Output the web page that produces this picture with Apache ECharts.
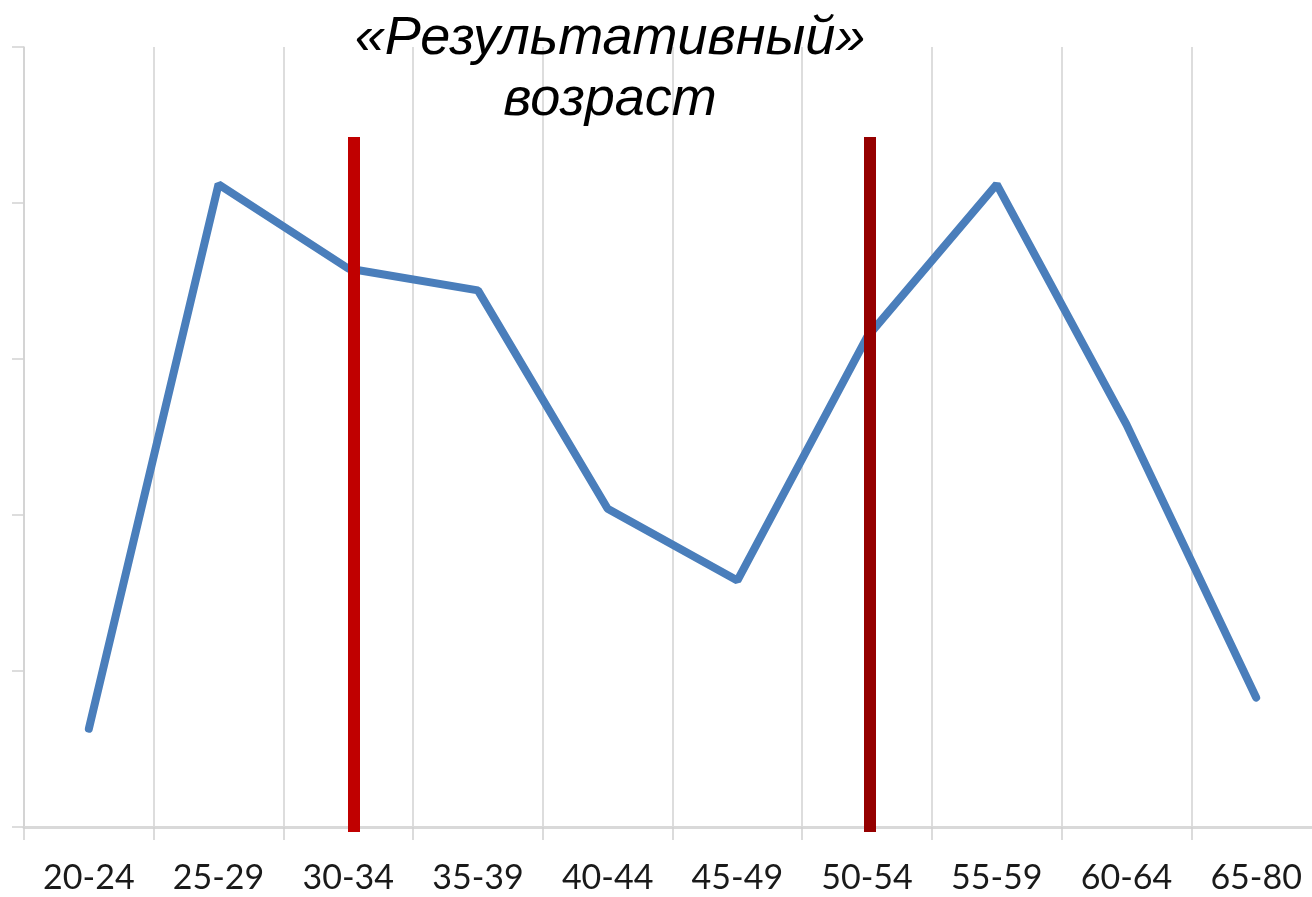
<!DOCTYPE html>
<html>
<head>
<meta charset="utf-8">
<script src="https://cdn.jsdelivr.net/npm/echarts@6/dist/echarts.min.js"></script>
<style>
  html, body { margin: 0; padding: 0; background: #fff; }
  #chart { width: 1312px; height: 897px; }
</style>
</head>
<body>
<div id="chart"></div>
<script>
// age groups and relative values
var ageGroups = ['20-24', '25-29', '30-34', '35-39', '40-44', '45-49', '50-54', '55-59', '60-64', '65-80']
var values = [0.63, 4.12, 3.58, 3.44, 2.04, 1.58, 3.14, 4.12, 2.58, 0.83]
// positions of the two red bounds on a 0..10 scale across the category axis
var bounds = [2.54, 6.52]
var boundColors = ['#c00000', '#950000']

var chart = echarts.init(document.getElementById('chart'))

var boundLines = bounds.map(function (b, i) {
  return { xAxis: b, lineStyle: { color: boundColors[i], width: 12, type: 'solid' } }
})

chart.setOption({
  animation: false,
  title: {
    text: '«Результативный»\nвозраст',
    left: 610,
    top: 8,
    padding: 0,
    textAlign: 'center',
    textStyle: {
      fontFamily: 'Liberation Sans',
      fontStyle: 'italic',
      fontWeight: 'normal',
      fontSize: 54,
      lineHeight: 61,
      color: '#000'
    }
  },
  grid: [
    { left: 24, top: 47, width: 1297, height: 780, outerBoundsMode: 'none' },
    { left: 24, top: 137, width: 1297, height: 695, outerBoundsMode: 'none' }
  ],
  xAxis: [{
    type: 'category',
    gridIndex: 0,
    data: ageGroups,
    boundaryGap: true,
    axisLine: { lineStyle: { color: '#d9d9d9', width: 3 } },
    axisTick: { show: true, length: 13, lineStyle: { color: '#cfcfcf', width: 1.5 } },
    splitLine: { show: true, lineStyle: { color: '#d2d2d2', width: 1.5 } },
    axisLabel: {
      margin: 34,
      fontFamily: 'Lato',
      fontSize: 34,
      color: '#1a1a1a'
    }
  }, {
    type: 'value',
    gridIndex: 1,
    min: 0,
    max: 10,
    show: false
  }],
  yAxis: [{
    type: 'value',
    gridIndex: 0,
    min: 0,
    max: 5,
    interval: 1,
    axisLine: { show: true, lineStyle: { color: '#d2d2d2', width: 1.5 } },
    axisTick: { show: true, length: 12, lineStyle: { color: '#d2d2d2', width: 1.5 } },
    axisLabel: { show: false },
    splitLine: { show: false }
  }, {
    type: 'value',
    gridIndex: 1,
    min: 0,
    max: 1,
    show: false
  }],
  series: [{
    type: 'line',
    data: values,
    symbol: 'none',
    lineStyle: { color: '#4a7ebb', width: 8, cap: 'round' },
    silent: true
  }, {
    type: 'line',
    xAxisIndex: 1,
    yAxisIndex: 1,
    data: [],
    symbol: 'none',
    silent: true,
    markLine: {
      silent: true,
      symbol: 'none',
      label: { show: false },
      data: boundLines
    }
  }]
})
</script>
</body>
</html>
